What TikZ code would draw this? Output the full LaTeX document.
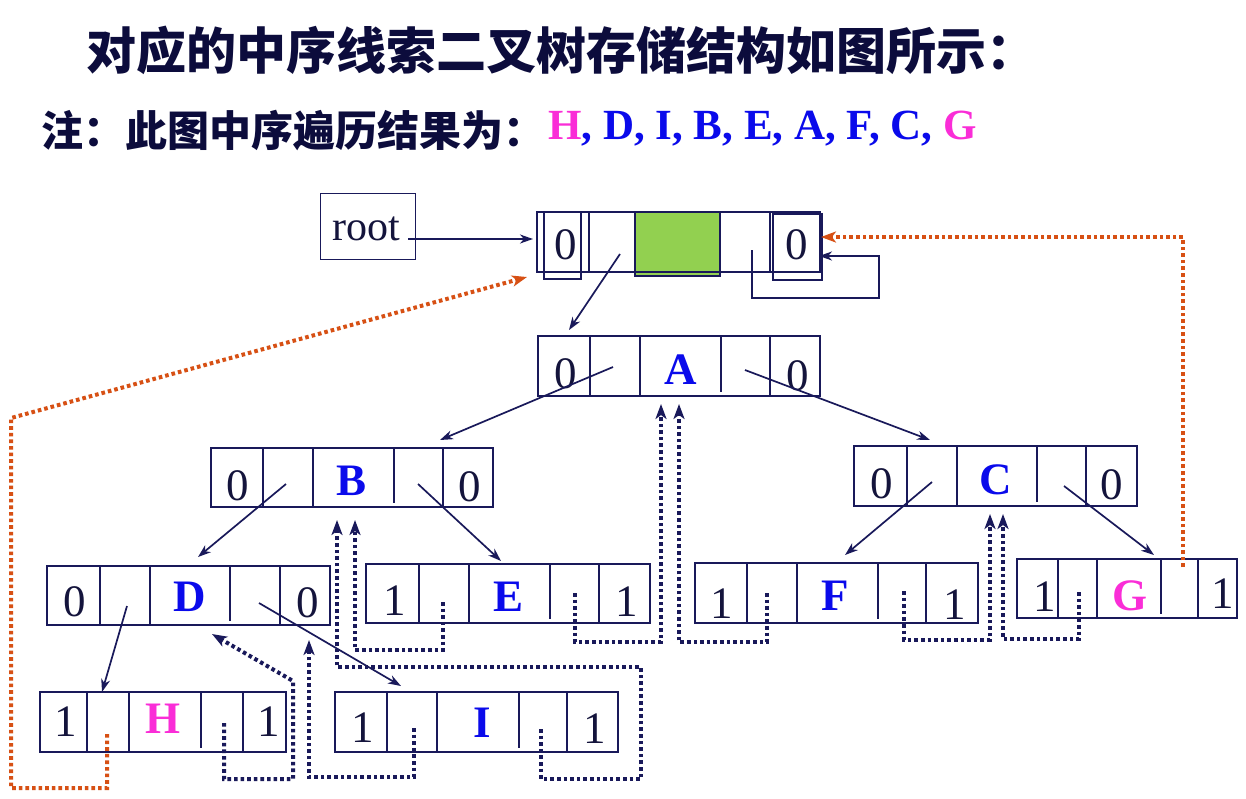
\documentclass[tikz,border=0pt]{standalone}
\usepackage{fontspec}
\setmainfont{Liberation Serif}
\newfontfamily\cjk{Noto Sans CJK SC}[BoldFont={Noto Sans CJK SC Black}]
\usetikzlibrary{arrows.meta}
\definecolor{navy}{RGB}{25,25,90}
\definecolor{inkc}{RGB}{20,20,60}
\definecolor{titlec}{RGB}{12,12,60}
\definecolor{blueL}{RGB}{10,10,235}
\definecolor{magL}{RGB}{250,45,215}
\definecolor{orangeL}{RGB}{215,80,20}
\definecolor{greenF}{RGB}{146,208,80}
\tikzset{
  cellbox/.style={draw=navy, line width=2.2pt},
  cellline/.style={draw=navy, line width=1.8pt},
  thinbox/.style={draw=navy, line width=1.3pt},
  dig/.style={inner sep=0pt, text=inkc, font=\fontsize{45}{45}\selectfont},
  let/.style={inner sep=0pt, text=blueL, font=\fontsize{45}{45}\selectfont\bfseries},
  ptr/.style={draw=navy, line width=1.7pt, -{Stealth[length=13pt,width=9pt,inset=4pt]}},
  thr/.style={draw=navy, line width=4pt, dash pattern=on 3.6pt off 3pt, -{Stealth[length=15pt,width=11pt,inset=4pt]}},
  othr/.style={draw=orangeL, line width=4pt, dash pattern=on 3.6pt off 3pt, -{Stealth[length=15pt,width=11pt,inset=4pt]}},
}
\newcommand\tcell[9]{%
  \coordinate (#1nw) at (#2,#8); \coordinate (#1se) at (#7,#9);
  \draw[cellbox] (#1nw) rectangle (#1se);
  \draw[cellline] (#3,#8) -- (#3,#9) (#4,#8) -- (#4,#9) (#5,#8) -- (#5,{#9-4}) (#6,#8) -- (#6,#9);}
\begin{document}
\begin{tikzpicture}[x=1pt,y=-1pt]
\useasboundingbox[fill=white] (0,0) rectangle (1246,798);

% titles
\node[anchor=west, inner sep=0pt, text=titlec, font=\fontsize{50}{50}\selectfont] (title) at (86,50) {\cjk\bfseries 对应的中序线索二叉树存储结构如图所示：};
\node[anchor=west, inner sep=0pt, text=titlec, font=\fontsize{42}{42}\selectfont] (note) at (41,131) {\cjk\bfseries 注：此图中序遍历结果为：};
\node[anchor=west, inner sep=0pt, text=blueL, font=\fontsize{43}{43}\selectfont\bfseries] (order) at (548,131) {\strut\textcolor{magL}{H}, D, I, B, E, A, F, C, \textcolor{magL}{G}};

% root
\node[thinbox, anchor=north west, minimum width=95pt, minimum height=66pt, inner sep=0pt] (root) at (320,193) {};
\node[dig, font=\fontsize{42}{42}\selectfont] (roottext) at (366,229) {root};
\coordinate (rootout) at (408,239);

% head node
\coordinate (hdnw) at (537,212); \coordinate (hdse) at (820,272);
\fill[greenF] (635,212) rectangle (720,276);
\draw[thinbox] (635,212) rectangle (720,276);
\draw[cellbox] (hdnw) rectangle (hdse);
\draw[cellline] (589,212) -- (589,272) (770,212) -- (770,272);
\draw[thinbox] (544,212) rectangle (581,279);
\draw[thinbox] (773,214) rectangle (822,280);
\node[dig] (hd0l) at (566,245) {0};
\node[dig] (hd0r) at (797,245) {0};
\coordinate (hdin) at (533,239);
\coordinate (hdlp) at (620,254);
\coordinate (hdrp) at (752,250);
\coordinate (hdrin) at (819,256);
\coordinate (hdthr) at (821,237);
\coordinate (hdthl) at (527,277);

% tree nodes
\tcell{A}{538}{590}{640}{721}{770}{820}{336}{396}
\tcell{B}{211}{263}{313}{394}{443}{493}{448}{507}
\tcell{C}{854}{907}{957}{1037}{1086}{1137}{446}{506}
\tcell{D}{47}{100}{150}{230}{280}{330}{566}{625}
\tcell{E}{366}{419}{469}{550}{599}{650}{564}{623}
\tcell{F}{695}{747}{797}{878}{926}{978}{563}{623}
\tcell{G}{1017}{1058}{1097}{1161}{1198}{1237}{559}{618}
\tcell{H}{40}{87}{129}{201}{243}{286}{692}{752}
\tcell{I}{335}{387}{437}{519}{567}{618}{692}{752}

% texts
\node[dig] (Atl) at (566,374) {0}; \node[let] (Ad) at (681,370) {A}; \node[dig] (Atr) at (798,376) {0};
\node[dig] (Btl) at (238,486) {0}; \node[let] (Bd) at (352,481) {B}; \node[dig] (Btr) at (470,487) {0};
\node[dig] (Ctl) at (882,484) {0}; \node[let] (Cd) at (996,480) {C}; \node[dig] (Ctr) at (1112,485) {0};
\node[dig] (Dtl) at (75,602) {0}; \node[let] (Dd) at (190,597) {D}; \node[dig] (Dtr) at (308,603) {0};
\node[dig] (Etl) at (395,601) {1}; \node[let] (Ed) at (508,597) {E}; \node[dig] (Etr) at (627,602) {1};
\node[dig] (Ftl) at (722,604) {1}; \node[let] (Fd) at (835,596) {F}; \node[dig] (Ftr) at (955,605) {1};
\node[dig] (Gtl) at (1045,597) {1}; \node[let, text=magL] (Gd) at (1130,596) {G}; \node[dig] (Gtr) at (1223,594) {1};
\node[dig] (Htl) at (66,722) {1}; \node[let, text=magL] (Hd) at (163,719) {H}; \node[dig] (Htr) at (269,722) {1};
\node[dig] (Itl) at (363,728) {1}; \node[let] (Id) at (482,723) {I}; \node[dig] (Itr) at (595,729) {1};

% pointer start / end coordinates
\coordinate (Alp) at (613,367); \coordinate (Arp) at (745,370);
\coordinate (Blp) at (286,484); \coordinate (Brp) at (418,484);
\coordinate (Clp) at (932,482); \coordinate (Crp) at (1064,486);
\coordinate (Dlp) at (127,606); \coordinate (Drp) at (259,603);
\coordinate (Ain) at (569,330); \coordinate (Bin) at (440,440); \coordinate (Cin) at (930,440);
\coordinate (Din) at (198,557); \coordinate (Ein) at (501,561);
\coordinate (Fin) at (845,555); \coordinate (Gin) at (1154,555);
\coordinate (Hin) at (102,692); \coordinate (Iin) at (401,686);

% solid pointers
\draw[ptr] (rootout) -- (hdin);
\draw[ptr] (hdlp) -- (Ain);
\draw[ptr] (hdrp) -- (752,298) -- (879,298) -- (879,256) -- (hdrin);
\draw[ptr] (Alp) -- (Bin);
\draw[ptr] (Arp) -- (Cin);
\draw[ptr] (Blp) -- (Din);
\draw[ptr] (Brp) -- (Ein);
\draw[ptr] (Clp) -- (Fin);
\draw[ptr] (Crp) -- (Gin);
\draw[ptr] (Dlp) -- (Hin);
\draw[ptr] (Drp) -- (Iin);

% thread coordinates
\coordinate (Hlt) at (107,734); \coordinate (Hrt) at (224,723);
\coordinate (Ilt) at (414,728); \coordinate (Irt) at (541,729);
\coordinate (Elt) at (443,602); \coordinate (Ert) at (575,593);
\coordinate (Flt) at (767,593); \coordinate (Frt) at (904,591);
\coordinate (Glt) at (1079,592); \coordinate (Grt) at (1183,567);
\coordinate (Dth) at (212,634); \coordinate (Dth2) at (309,640);
\coordinate (Bth1) at (337,520); \coordinate (Bth2) at (355,520);
\coordinate (Ath1) at (661,404); \coordinate (Ath2) at (679,404);
\coordinate (Cth1) at (990,514); \coordinate (Cth2) at (1003,514);

% threads
\draw[thr] (Hrt) -- (224,779) -- (293,779) -- (293,681) -- (Dth);
\draw[thr] (Ilt) -- (414,777) -- (309,777) -- (Dth2);
\draw[thr] (Irt) -- (541,779) -- (641,779) -- (641,667) -- (337,667) -- (Bth1);
\draw[thr] (Elt) -- (443,650) -- (355,650) -- (Bth2);
\draw[thr] (Ert) -- (575,642) -- (661,642) -- (Ath1);
\draw[thr] (Flt) -- (767,642) -- (679,642) -- (Ath2);
\draw[thr] (Frt) -- (904,640) -- (990,640) -- (Cth1);
\draw[thr] (Glt) -- (1079,639) -- (1003,639) -- (Cth2);
\draw[othr] (Hlt) -- (107,788) -- (11,788) -- (11,418) -- (hdthl);
\draw[othr] (Grt) -- (1183,237) -- (hdthr);
\end{tikzpicture}
\end{document}
